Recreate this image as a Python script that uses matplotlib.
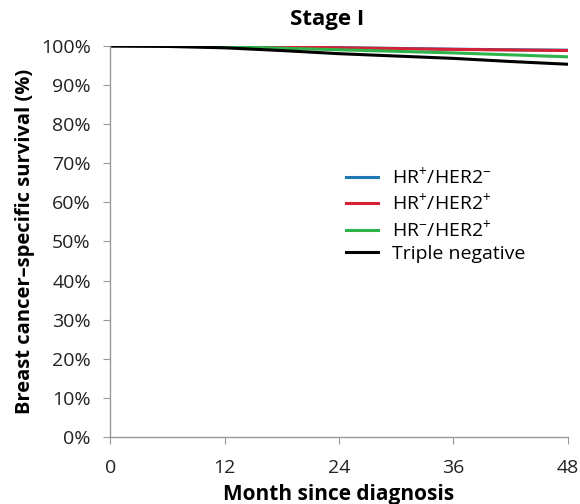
import matplotlib
matplotlib.use("Agg")
import matplotlib.pyplot as plt
from matplotlib.ticker import FuncFormatter

plt.rcParams['font.family'] = ['Open Sans', 'DejaVu Sans']
plt.rcParams['mathtext.fontset'] = 'custom'
plt.rcParams['mathtext.rm'] = 'Open Sans'

months = [0, 6, 12, 18, 24, 30, 36, 42, 48]
hr_pos_her2_neg = [100, 99.97, 99.9, 99.75, 99.55, 99.35, 99.15, 99.0, 98.9]
hr_pos_her2_pos = [100, 99.97, 99.9, 99.7, 99.5, 99.3, 99.1, 98.95, 98.8]
hr_neg_her2_pos = [100, 99.95, 99.8, 99.4, 99.0, 98.6, 98.2, 97.7, 97.2]
triple_negative = [100, 99.85, 99.5, 98.8, 98.0, 97.4, 96.8, 96.0, 95.3]

series = [
    ("HR$^{+}$/HER2$^{-}$", hr_pos_her2_neg, "#1f77b4"),
    ("HR$^{+}$/HER2$^{+}$", hr_pos_her2_pos, "#d62036"),
    ("HR$^{-}$/HER2$^{+}$", hr_neg_her2_pos, "#2db34a"),
    ("Triple negative", triple_negative, "#000000"),
]

fig = plt.figure(figsize=(5.8, 5.04), dpi=100)
ax = fig.add_axes([0.19, 0.133, 0.789, 0.776])

for label, vals, color in series:
    ax.plot(months, vals, color=color, lw=2.2, label=label)

ax.set_xlim(0, 48)
ax.set_ylim(0, 100)
ax.set_xticks([0, 12, 24, 36, 48])
ax.set_yticks(range(0, 101, 10))
ax.yaxis.set_major_formatter(FuncFormatter(lambda v, p: f"{int(v)}%"))

for side in ("top", "right"):
    ax.spines[side].set_visible(False)
for side in ("left", "bottom"):
    ax.spines[side].set_color("#999999")
    ax.spines[side].set_linewidth(1.0)
ax.tick_params(axis="both", direction="out", length=5, color="#999999",
               labelsize=14, labelcolor="#222222")
ax.tick_params(axis="x", pad=11)
ax.tick_params(axis="y", pad=9)

fig.text(327 / 580, 1 - 19 / 504, "Stage I", fontsize=16, fontweight="bold",
         ha="center", va="center")
ax.set_xlabel("Month since diagnosis", fontsize=15, fontweight="bold", labelpad=5)
ax.set_ylabel("Breast cancer\u2013specific survival (%)", fontsize=14.5,
              fontweight="bold", labelpad=4)

ax.legend(loc="upper left", bbox_to_anchor=(0.498, 0.713), frameon=False,
          fontsize=14, handlelength=1.65, handletextpad=0.7, labelspacing=0.22,
          borderaxespad=0)

fig.savefig("out.png", dpi=100)
